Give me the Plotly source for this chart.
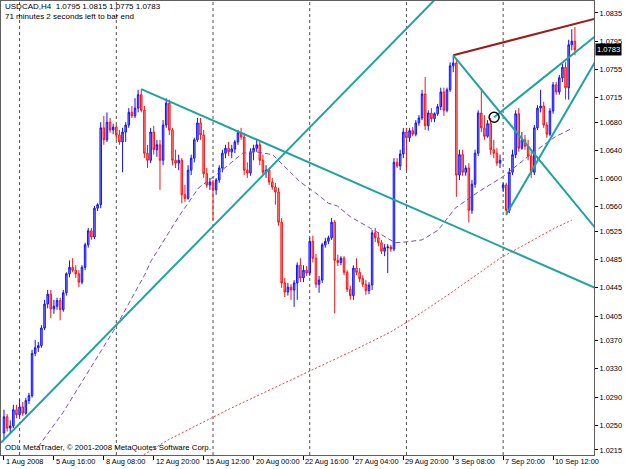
import plotly.graph_objects as go

# ---------------- data ----------------
bar_index = list(range(184))
opens = [1.0239,1.0262,1.0246,1.0249,1.0272,1.0265,1.0276,1.0267,1.0285,1.0292,
 1.0352,1.0360,1.0363,1.0388,1.0422,1.0436,1.0415,1.0419,1.0427,1.0414,
 1.0438,1.0465,1.0474,1.0470,1.0465,1.0453,1.0474,1.0506,1.0526,1.0517,
 1.0558,1.0563,1.0672,1.0655,1.0680,1.0669,1.0673,1.0662,1.0652,1.0666,
 1.0676,1.0694,1.0689,1.0700,1.0719,1.0697,1.0636,1.0626,1.0666,1.0641,
 1.0648,1.0626,1.0676,1.0707,1.0669,1.0626,1.0622,1.0626,1.0577,1.0572,
 1.0612,1.0629,1.0655,1.0679,1.0662,1.0607,1.0591,1.0595,1.0584,1.0598,
 1.0615,1.0636,1.0643,1.0638,1.0642,1.0652,1.0665,1.0659,1.0612,1.0608,
 1.0638,1.0643,1.0648,1.0626,1.0609,1.0612,1.0595,1.0588,1.0581,1.0538,
 1.0452,1.0439,1.0446,1.0442,1.0452,1.0477,1.0459,1.0470,1.0466,1.0511,
 1.0487,1.0450,1.0456,1.0506,1.0511,1.0516,1.0538,1.0484,1.0481,1.0487,
 1.0467,1.0443,1.0434,1.0473,1.0467,1.0458,1.0450,1.0441,1.0449,1.0523,
 1.0516,1.0509,1.0497,1.0502,1.0503,1.0500,1.0623,1.0618,1.0635,1.0666,
 1.0658,1.0668,1.0663,1.0679,1.0686,1.0720,1.0675,1.0693,1.0685,1.0692,
 1.0702,1.0723,1.0697,1.0726,1.0760,1.0764,1.0605,1.0634,1.0609,1.0615,
 1.0555,1.0592,1.0636,1.0693,1.0672,1.0660,1.0678,1.0641,1.0636,1.0622,
 1.0587,1.0591,1.0555,1.0609,1.0634,1.0692,1.0643,1.0655,1.0646,1.0632,
 1.0609,1.0672,1.0700,1.0703,1.0676,1.0663,1.0696,1.0733,1.0723,1.0743,
 1.0758,1.0729,1.0790,1.0795]
highs = [1.0272,1.0266,1.0257,1.0279,1.0279,1.0286,1.0283,1.0289,1.0296,1.0357,
 1.0371,1.0368,1.0392,1.0428,1.0442,1.0442,1.0428,1.0431,1.0431,1.0442,
 1.0467,1.0484,1.0487,1.0477,1.0470,1.0477,1.0509,1.0530,1.0530,1.0561,
 1.0565,1.0680,1.0689,1.0694,1.0686,1.0678,1.0676,1.0669,1.0672,1.0680,
 1.0700,1.0703,1.0714,1.0726,1.0727,1.0703,1.0648,1.0672,1.0675,1.0655,
 1.0655,1.0683,1.0714,1.0712,1.0672,1.0641,1.0634,1.0629,1.0591,1.0619,
 1.0634,1.0658,1.0686,1.0686,1.0669,1.0615,1.0601,1.0598,1.0601,1.0619,
 1.0641,1.0648,1.0652,1.0648,1.0655,1.0669,1.0672,1.0665,1.0623,1.0643,
 1.0648,1.0655,1.0652,1.0634,1.0619,1.0615,1.0601,1.0594,1.0587,1.0544,
 1.0459,1.0452,1.0450,1.0456,1.0481,1.0487,1.0477,1.0476,1.0516,1.0519,
 1.0493,1.0462,1.0509,1.0516,1.0519,1.0544,1.0541,1.0492,1.0490,1.0490,
 1.0470,1.0448,1.0477,1.0487,1.0473,1.0463,1.0456,1.0453,1.0527,1.0530,
 1.0524,1.0513,1.0507,1.0507,1.0506,1.0629,1.0629,1.0641,1.0672,1.0672,
 1.0672,1.0673,1.0683,1.0690,1.0726,1.0744,1.0697,1.0700,1.0694,1.0706,
 1.0729,1.0729,1.0729,1.0765,1.0775,1.0768,1.0641,1.0641,1.0619,1.0622,
 1.0598,1.0641,1.0697,1.0726,1.0690,1.0683,1.0686,1.0655,1.0643,1.0634,
 1.0594,1.0594,1.0615,1.0641,1.0697,1.0700,1.0666,1.0662,1.0655,1.0641,
 1.0676,1.0704,1.0726,1.0709,1.0680,1.0700,1.0737,1.0737,1.0747,1.0763,
 1.0765,1.0797,1.0812,1.0815]
lows = [1.0229,1.0241,1.0238,1.0246,1.0260,1.0262,1.0263,1.0265,1.0280,1.0289,
 1.0348,1.0354,1.0360,1.0385,1.0416,1.0402,1.0408,1.0414,1.0399,1.0411,
 1.0434,1.0460,1.0467,1.0459,1.0446,1.0450,1.0470,1.0502,1.0513,1.0514,
 1.0554,1.0558,1.0648,1.0652,1.0665,1.0663,1.0655,1.0648,1.0609,1.0652,
 1.0672,1.0686,1.0686,1.0694,1.0694,1.0629,1.0615,1.0622,1.0634,1.0631,
 1.0584,1.0619,1.0672,1.0662,1.0619,1.0615,1.0612,1.0565,1.0567,1.0570,
 1.0605,1.0623,1.0652,1.0655,1.0601,1.0587,1.0584,1.0541,1.0577,1.0594,
 1.0609,1.0629,1.0632,1.0629,1.0636,1.0648,1.0655,1.0605,1.0601,1.0604,
 1.0626,1.0638,1.0619,1.0605,1.0601,1.0591,1.0584,1.0563,1.0533,1.0445,
 1.0432,1.0434,1.0428,1.0418,1.0428,1.0453,1.0453,1.0462,1.0462,1.0481,
 1.0445,1.0438,1.0452,1.0502,1.0507,1.0513,1.0409,1.0476,1.0477,1.0463,
 1.0439,1.0428,1.0428,1.0463,1.0453,1.0446,1.0435,1.0436,1.0442,1.0510,
 1.0504,1.0493,1.0490,1.0466,1.0496,1.0497,1.0615,1.0612,1.0629,1.0612,
 1.0652,1.0660,1.0660,1.0675,1.0683,1.0669,1.0668,1.0680,1.0680,1.0689,
 1.0697,1.0689,1.0694,1.0723,1.0751,1.0574,1.0598,1.0604,1.0604,1.0538,
 1.0550,1.0587,1.0632,1.0666,1.0655,1.0658,1.0634,1.0629,1.0618,1.0615,
 1.0581,1.0548,1.0551,1.0605,1.0629,1.0638,1.0641,1.0641,1.0626,1.0601,
 1.0605,1.0669,1.0694,1.0672,1.0658,1.0660,1.0692,1.0719,1.0719,1.0737,
 1.0712,1.0712,1.0782,1.0775]
closes = [1.0262,1.0246,1.0249,1.0272,1.0265,1.0276,1.0267,1.0285,1.0292,1.0352,
 1.0360,1.0363,1.0388,1.0422,1.0436,1.0415,1.0419,1.0427,1.0414,1.0438,
 1.0465,1.0474,1.0470,1.0465,1.0453,1.0474,1.0506,1.0526,1.0517,1.0558,
 1.0563,1.0672,1.0655,1.0680,1.0669,1.0673,1.0662,1.0652,1.0666,1.0676,
 1.0694,1.0689,1.0700,1.0719,1.0697,1.0636,1.0626,1.0666,1.0641,1.0648,
 1.0626,1.0676,1.0707,1.0669,1.0626,1.0622,1.0626,1.0577,1.0572,1.0612,
 1.0629,1.0655,1.0679,1.0662,1.0607,1.0591,1.0595,1.0584,1.0598,1.0615,
 1.0636,1.0643,1.0638,1.0642,1.0652,1.0665,1.0659,1.0612,1.0608,1.0638,
 1.0643,1.0648,1.0626,1.0609,1.0612,1.0595,1.0588,1.0581,1.0538,1.0452,
 1.0439,1.0446,1.0442,1.0452,1.0477,1.0459,1.0470,1.0466,1.0511,1.0487,
 1.0450,1.0456,1.0506,1.0511,1.0516,1.0538,1.0484,1.0481,1.0487,1.0467,
 1.0443,1.0434,1.0473,1.0467,1.0458,1.0450,1.0441,1.0449,1.0523,1.0516,
 1.0509,1.0497,1.0502,1.0503,1.0500,1.0623,1.0618,1.0635,1.0666,1.0658,
 1.0668,1.0663,1.0679,1.0686,1.0720,1.0675,1.0693,1.0685,1.0692,1.0702,
 1.0723,1.0697,1.0726,1.0760,1.0764,1.0605,1.0634,1.0609,1.0615,1.0555,
 1.0592,1.0636,1.0693,1.0672,1.0660,1.0678,1.0641,1.0636,1.0622,1.0626,
 1.0591,1.0555,1.0609,1.0634,1.0692,1.0643,1.0655,1.0646,1.0632,1.0609,
 1.0672,1.0700,1.0703,1.0676,1.0663,1.0696,1.0733,1.0723,1.0743,1.0758,
 1.0729,1.0790,1.0795,1.0783]

# moving averages (sampled from the chart)
ma_mid_x = [10.9,18.9,35.8,45.4,47,56,62.4,68.8,76.5,80.6,86.1,95,99.8,104,106.9,111,
            120,125.4,128.6,134,139.2,144.6,152,159.7,169.3,176.6,182.4]
ma_mid_y = [1.0219,1.0268,1.0389,1.0466,1.0482,1.0546,1.0587,1.0608,1.0636,1.0638,1.0634,
            1.0595,1.0580,1.0565,1.0561,1.0546,1.0523,1.0509,1.0510,1.0513,1.0527,1.0558,
            1.0581,1.0602,1.0636,1.0659,1.0672]
ma_long_x = [44.8,52.5,71.7,82.2,95,111,123.8,131.2,144.6,159,176.6,182]
ma_long_y = [1.0208,1.0229,1.0272,1.0294,1.0320,1.0354,1.0382,1.0402,1.0442,1.0487,1.0530,1.0541]

# trend lines: (x0, y0, x1, y1, colour)
trend_lines = [
    (-1, 1.0225, 141, 1.0867, "#1fa3a0"),
    (44, 1.0727, 189.5, 1.0445, "#1fa3a0"),
    (144, 1.0775, 189.5, 1.0827, "#9b1c1c"),
    (144, 1.0775, 189.5, 1.0530, "#1fa3a0"),
    (157.1, 1.0687, 189.5, 1.0802, "#1fa3a0"),
    (161, 1.0549, 189.5, 1.0766, "#1fa3a0"),
]
circle_pt = (157.1, 1.0687)

week_separators = [5, 36, 67, 98, 129, 160]
date_ticks = [0, 16, 32, 48, 64, 80, 96, 112, 128, 144, 160, 176]
date_labels = ["1 Aug 2008", "5 Aug 16:00", "8 Aug 08:00", "12 Aug 20:00", "15 Aug 12:00",
               "20 Aug 00:00", "22 Aug 16:00", "27 Aug 04:00", "29 Aug 20:00", "3 Sep 08:00",
               "7 Sep 20:00", "10 Sep 12:00"]
price_ticks = [1.0835, 1.0795, 1.0755, 1.0715, 1.0680, 1.0640, 1.0600, 1.0560, 1.0525,
               1.0485, 1.0445, 1.0405, 1.0370, 1.0330, 1.0290, 1.0250, 1.0215]
last_price = 1.0783

FONT = "Liberation Sans, Arial, sans-serif"

fig = go.Figure()
fig.add_trace(go.Candlestick(
    x=bar_index, open=opens, high=highs, low=lows, close=closes,
    increasing=dict(line=dict(color="#1010ff", width=1), fillcolor="#8c8cff"),
    decreasing=dict(line=dict(color="#ff1010", width=1), fillcolor="#ff9a9a"),
    whiskerwidth=0, hoverinfo="skip", showlegend=False))

fig.add_trace(go.Scatter(x=ma_mid_x, y=ma_mid_y, mode="lines",
    line=dict(color="#7a4fb4", width=1, dash="5px,3px"), showlegend=False, hoverinfo="skip"))
fig.add_trace(go.Scatter(x=ma_long_x, y=ma_long_y, mode="lines",
    line=dict(color="#ff3a3a", width=1, dash="2px,2px"), showlegend=False, hoverinfo="skip"))

for x0, y0, x1, y1, col in trend_lines:
    fig.add_trace(go.Scatter(x=[x0, x1], y=[y0, y1], mode="lines",
        line=dict(color=col, width=2), showlegend=False, hoverinfo="skip"))

fig.add_trace(go.Scatter(x=[circle_pt[0]], y=[circle_pt[1]], mode="markers",
    marker=dict(symbol="circle-open", size=10, color="#000000", line=dict(width=1.5)),
    showlegend=False, hoverinfo="skip"))

shapes = []
for s in week_separators:
    shapes.append(dict(type="line", xref="x", yref="paper", x0=s, x1=s, y0=0, y1=1,
                       line=dict(color="#505050", width=1, dash="3px,3px"), layer="below"))

annotations = []
for t, lab in zip(date_ticks, date_labels):
    annotations.append(dict(x=t, y=-0.0154, xref="x", yref="paper", text=lab, showarrow=False,
                            xanchor="left", yanchor="middle", xshift=0,
                            font=dict(family=FONT, size=7.4, color="#000000")))
annotations.append(dict(x=0.004, y=0.987, xref="paper", yref="paper",
                        text="USDCAD,H4  1.0795 1.0815 1.0775 1.0783", showarrow=False,
                        xanchor="left", yanchor="middle", font=dict(family=FONT, size=8, color="#000000")))
annotations.append(dict(x=0.004, y=0.966, xref="paper", yref="paper",
                        text="71 minutes 2 seconds left to bar end", showarrow=False,
                        xanchor="left", yanchor="middle", font=dict(family=FONT, size=8, color="#000000")))
annotations.append(dict(x=0.004, y=0.0176, xref="paper", yref="paper",
                        text="ODL MetaTrader, © 2001-2008 MetaQuotes Software Corp.", showarrow=False,
                        xanchor="left", yanchor="middle", font=dict(family=FONT, size=7.8, color="#000000")))
annotations.append(dict(x=1, y=last_price, xref="paper", yref="y", text="1.0783", showarrow=False,
                        xanchor="left", yanchor="middle", xshift=1, bgcolor="#000000", borderpad=1,
                        font=dict(family=FONT, size=7.6, color="#ffffff")))

fig.update_layout(
    width=625, height=469,
    margin=dict(l=1, r=31, t=1, b=14),
    paper_bgcolor="#ffffff", plot_bgcolor="#ffffff",
    shapes=shapes, annotations=annotations, showlegend=False,
    xaxis=dict(range=[-0.96, 189.12], showgrid=False, zeroline=False,
               tickvals=date_ticks, ticks="outside", ticklen=4, tickcolor="#000000",
               showticklabels=False, showline=True, linecolor="#606060", mirror=True,
               rangeslider=dict(visible=False), fixedrange=True),
    yaxis=dict(range=[1.02078, 1.0852], side="right", showgrid=False, zeroline=False,
               tickvals=price_ticks, ticktext=[f"{v:.4f}" for v in price_ticks],
               ticks="outside", ticklen=3, tickcolor="#000000",
               tickfont=dict(family=FONT, size=7.4, color="#000000"),
               showline=True, linecolor="#606060", mirror=True, fixedrange=True),
)

fig.write_html("out.html")
